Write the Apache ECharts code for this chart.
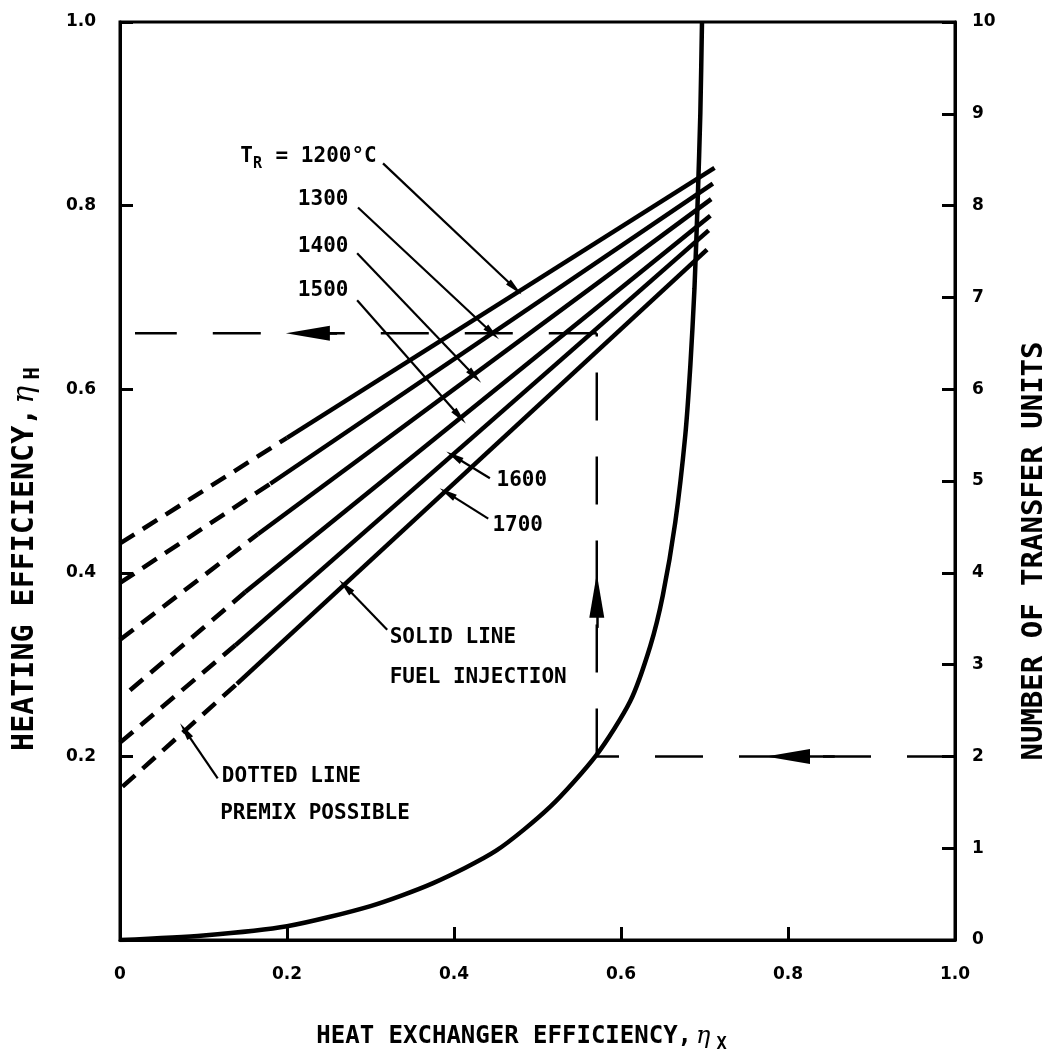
<!DOCTYPE html>
<html>
<head>
<meta charset="utf-8">
<script src="https://cdn.jsdelivr.net/npm/echarts@6.0.0/dist/echarts.min.js"></script>
<style>
html,body{margin:0;padding:0;background:#fff}
#chart{width:1048px;height:1057px}
</style>
</head>
<body>
<div id="chart"></div>
<script>
// reactor temperature lines: dashed from x=0 to the break, solid to the end
var temps = ['1200', '1300', '1400', '1500', '1600', '1700'];
var startX = [0, 0, 0, 0.012, 0, 0.003];
var startEff = [0.432, 0.389, 0.327, 0.272, 0.215, 0.167];
var breakX = [0.2, 0.18, 0.165, 0.15, 0.138, 0.14];
var breakEff = [0.547, 0.497, 0.442, 0.379, 0.321, 0.279];
var endX = [0.712, 0.71, 0.708, 0.707, 0.705, 0.703];
var endEff = [0.841, 0.824, 0.807, 0.789, 0.773, 0.752];

// number of transfer units vs heat exchanger efficiency (right axis)
var ntuX = [0, 0.1, 0.2, 0.3, 0.375, 0.45, 0.515, 0.571, 0.611, 0.635, 0.65, 0.665, 0.677, 0.683, 0.688, 0.692, 0.695, 0.697];
var ntuVal = [0, 0.05, 0.15, 0.37, 0.62, 0.97, 1.45, 2.02, 2.6, 3.2, 3.75, 4.55, 5.5, 6.25, 7.1, 8.1, 9.0, 10];

// worked example guide
var guideX = 0.571;
var guideEff = 0.661;
var guideNtu = 2;

var FONT = 'DejaVu Sans';
var MONO = 'DejaVu Sans Mono';
var black = '#000';

var chart = echarts.init(document.getElementById('chart'));

var series = [];
temps.forEach(function (t, i) {
    series.push({
        name: t + ' premix',
        type: 'line',
        symbol: 'none',
        silent: true,
        lineStyle: {color: black, width: 4.5, type: [17, 10]},
        data: [[startX[i], startEff[i]], [breakX[i], breakEff[i]]]
    });
    series.push({
        name: t,
        type: 'line',
        symbol: 'none',
        silent: true,
        lineStyle: {color: black, width: 4.5},
        data: [[breakX[i], breakEff[i]], [endX[i], endEff[i]]]
    });
});

series.push({
    name: 'NTU',
    type: 'line',
    yAxisIndex: 1,
    symbol: 'none',
    smooth: 0.25,
    silent: true,
    lineStyle: {color: black, width: 4.5},
    data: ntuX.map(function (x, i) { return [x, ntuVal[i]]; })
});

// dashed guide lines with their arrows
function guide(name, yIdx, pts, arrow) {
    return {
        name: name,
        type: 'line',
        yAxisIndex: yIdx,
        symbol: 'none',
        silent: true,
        lineStyle: {color: black, width: 2.5, type: [48, 36]},
        data: pts,
        markLine: {
            silent: true,
            symbol: ['none', 'triangle'],
            symbolSize: [15, 44],
            label: {show: false},
            lineStyle: {color: black, width: 2.5, type: 'solid'},
            data: [[{coord: arrow[0]}, {coord: arrow[1]}]]
        }
    };
}
series.push(guide('guide1', 0, [[guideX, guideEff], [0.018, guideEff]], [[0.26, guideEff], [0.225, guideEff]]));
series.push(guide('guide2', 0, [[guideX, 0.2], [guideX, guideEff]], [[guideX, 0.34], [guideX, 0.375]]));
series.push(guide('guide3', 1, [[1.0, guideNtu], [guideX, guideNtu]], [[0.856, guideNtu], [0.80, guideNtu]]));

// leader lines from the notes to the curves
var leaders = [
    [[0.315, 0.846], [0.473, 0.71]],
    [[0.285, 0.798], [0.446, 0.661]],
    [[0.284, 0.748], [0.425, 0.614]],
    [[0.284, 0.697], [0.407, 0.57]],
    [[0.443, 0.503], [0.4, 0.527]],
    [[0.441, 0.459], [0.392, 0.487]],
    [[0.32, 0.338], [0.27, 0.385]],
    [[0.117, 0.176], [0.078, 0.228]]
];
series.push({
    name: 'leaders',
    type: 'line',
    symbol: 'none',
    silent: true,
    data: [],
    markLine: {
        silent: true,
        symbol: ['none', 'triangle'],
        symbolSize: [7, 18],
        label: {show: false},
        lineStyle: {color: black, width: 2.2, type: 'solid'},
        data: leaders.map(function (l) {
            return [{coord: l[0]}, {coord: l[1]}];
        })
    }
});

var tickLabel = {color: black, fontFamily: FONT, fontWeight: 'bold', fontSize: 17};
function nameRich(size) {
    return {
        t: {fontFamily: MONO, fontWeight: 'bold', fontSize: size, color: black},
        e: {fontFamily: 'DejaVu Serif', fontStyle: 'italic', fontSize: size, color: black, padding: [0, 0, 0, 4]},
        s: {fontFamily: MONO, fontWeight: 'bold', fontSize: Math.round(size * 0.7), color: black, padding: [16, 0, 0, 6]}
    };
}

var option = {
    backgroundColor: '#fff',
    animation: false,
    grid: {
        left: 120, right: 93, top: 22, bottom: 117,
        containLabel: false, outerBoundsMode: 'none',
        show: true, borderColor: black, borderWidth: 3
    },
    xAxis: {
        type: 'value', min: 0, max: 1, interval: 0.2,
        axisLine: {lineStyle: {color: black, width: 3}},
        axisTick: {inside: true, length: 13, lineStyle: {color: black, width: 3}},
        splitLine: {show: false},
        axisLabel: Object.assign({margin: 26, formatter: function (v) { return v === 0 ? '0' : v.toFixed(1); }}, tickLabel),
        name: '{t|HEAT EXCHANGER EFFICIENCY,}{e|η}{s|X}',
        nameLocation: 'middle',
        nameGap: 80,
        nameTextStyle: {rich: nameRich(24), padding: [0, 32, 0, 0]}
    },
    yAxis: [{
        type: 'value', min: 0, max: 1, interval: 0.2, position: 'left',
        axisLine: {show: true, lineStyle: {color: black, width: 3}},
        axisTick: {show: true, inside: true, length: 13, lineStyle: {color: black, width: 3}},
        splitLine: {show: false},
        axisLabel: Object.assign({margin: 24, formatter: function (v) { return v === 0 ? '' : v.toFixed(1); }}, tickLabel),
        name: '{t|HEATING EFFICIENCY,}{e|η}{s|H}',
        nameLocation: 'middle',
        nameGap: 76,
        nameTextStyle: {rich: nameRich(30), padding: [0, 156, 0, 0]}
    }, {
        type: 'value', min: 0, max: 10, interval: 1, position: 'right',
        axisLine: {show: true, lineStyle: {color: black, width: 3}},
        axisTick: {show: true, inside: true, length: 13, lineStyle: {color: black, width: 3}},
        splitLine: {show: false},
        axisLabel: Object.assign({margin: 17}, tickLabel),
        name: '{t|NUMBER OF TRANSFER UNITS}',
        nameLocation: 'middle',
        nameGap: 65,
        nameRotate: 90,
        nameTextStyle: {rich: nameRich(29), padding: [0, 140, 0, 0]}
    }],
    series: series
};

chart.setOption(option);

// notes, anchored in data space (left edge, vertical middle)
var notes = [
    {text: '{a|T}{s|R}{a| = 1200°C}', at: [0.144, 0.853]},
    {text: '{a|1300}', at: [0.213, 0.807]},
    {text: '{a|1400}', at: [0.213, 0.755]},
    {text: '{a|1500}', at: [0.213, 0.707]},
    {text: '{a|1600}', at: [0.451, 0.501]},
    {text: '{a|1700}', at: [0.446, 0.452]},
    {text: '{a|SOLID LINE}', at: [0.323, 0.329]},
    {text: '{a|FUEL INJECTION}', at: [0.323, 0.286]},
    {text: '{a|DOTTED LINE}', at: [0.122, 0.178]},
    {text: '{a|PREMIX POSSIBLE}', at: [0.12, 0.138]}
];
var graphics = notes.map(function (n) {
    var p = chart.convertToPixel({xAxisIndex: 0, yAxisIndex: 0}, n.at);
    return {
        type: 'text',
        x: p[0], y: p[1],
        silent: true,
        style: {
            text: n.text,
            verticalAlign: 'middle',
            align: 'left',
            rich: {
                a: {fontFamily: MONO, fontWeight: 'bold', fontSize: 21, fill: black},
                s: {fontFamily: MONO, fontWeight: 'bold', fontSize: 15, fill: black, padding: [14, 1, 0, 0]}
            }
        }
    };
});
chart.setOption({graphic: graphics});
</script>
</body>
</html>
